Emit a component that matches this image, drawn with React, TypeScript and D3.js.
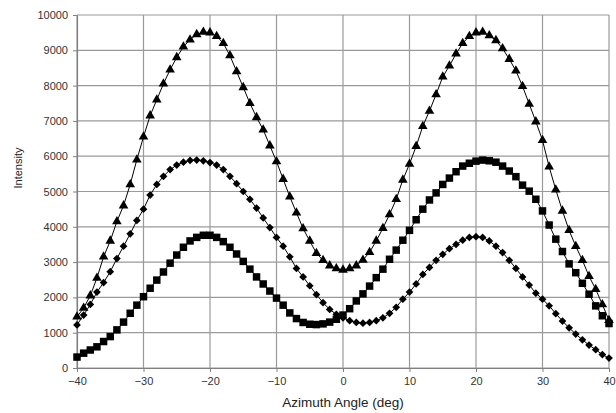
import React, { useEffect, useRef } from "react";
import * as d3 from "d3";

// azimuth angles (deg)
const angles = [
  -40, -39, -38, -37, -36, -35, -34, -33, -32, -31, -30, -29, -28, -27, -26, -25, -24, -23, -22, -21,
  -20, -19, -18, -17, -16, -15, -14, -13, -12, -11, -10, -9, -8, -7, -6, -5, -4, -3, -2, -1,
  0, 1, 2, 3, 4, 5, 6, 7, 8, 9, 10, 11, 12, 13, 14, 15, 16, 17, 18, 19,
  20, 21, 22, 23, 24, 25, 26, 27, 28, 29, 30, 31, 32, 33, 34, 35, 36, 37, 38, 39, 40,
];

// triangle series
const triangles = [
  1450, 1700, 2050, 2550, 3150, 3600, 4150, 4600, 5200, 5900, 6550, 7150, 7600, 8050, 8450, 8800, 9100, 9300, 9450, 9520,
  9500, 9400, 9200, 8850, 8400, 7950, 7500, 7100, 6750, 6300, 5850, 5350, 4850, 4400, 3950, 3600, 3250, 3050, 2900, 2820,
  2780, 2820, 2900, 3060, 3280, 3600, 3960, 4350, 4780, 5330, 5780, 6280, 6850, 7280, 7750, 8250, 8560, 8900, 9200, 9400,
  9500, 9520, 9420, 9280, 9050, 8750, 8420, 7980, 7480, 6980, 6450, 5700, 5050, 4450, 3900, 3450, 3050, 2600, 2230, 1800, 1350,
];

// diamond series
const diamonds = [
  1220, 1500, 1800, 2150, 2420, 2730, 3100, 3450, 3800, 4180, 4500, 4900, 5200, 5430, 5620, 5750, 5830, 5880, 5890, 5870,
  5820, 5750, 5620, 5430, 5220, 5000, 4780, 4530, 4250, 3980, 3700, 3450, 3150, 2820, 2580, 2330, 2080, 1850, 1660, 1520,
  1420, 1340, 1290, 1270, 1290, 1340, 1420, 1550, 1720, 1950, 2150, 2380, 2650, 2850, 3050, 3220, 3380, 3500, 3620, 3700,
  3720, 3700, 3600, 3450, 3270, 3050, 2820, 2580, 2350, 2120, 1950, 1760, 1540, 1330, 1140, 960, 800, 650, 520, 380, 280,
];

// square series
const squares = [
  310, 420, 510, 600, 750, 890, 1080, 1300, 1550, 1780, 2020, 2260, 2490, 2720, 2970, 3200, 3420, 3600, 3700, 3760,
  3760, 3700, 3580, 3420, 3230, 3020, 2800, 2580, 2380, 2180, 1980, 1780, 1560, 1400, 1290, 1240, 1230, 1250, 1300, 1380,
  1500, 1680, 1900, 2100, 2320, 2560, 2800, 3080, 3340, 3620, 3900, 4200, 4500, 4760, 4960, 5200, 5380, 5560, 5720, 5800,
  5860, 5890, 5870, 5830, 5720, 5580, 5420, 5180, 5010, 4780, 4450, 4050, 3650, 3300, 2950, 2700, 2400, 2090, 1760, 1480, 1260,
];

const xTicks = [-40, -30, -20, -10, 0, 10, 20, 30, 40];
const yTicks = [0, 1000, 2000, 3000, 4000, 5000, 6000, 7000, 8000, 9000, 10000];

const App = () => {
  const chartEl = useRef(null);

  useEffect(() => {
    document.body.style.margin = "0";
    const width = 616,
      height = 413;
    const margin = { top: 15, right: 7, bottom: 45, left: 77 };
    const w = width - margin.left - margin.right,
      h = height - margin.top - margin.bottom;

    const svg = d3.select(chartEl.current).attr("width", width).attr("height", height);
    svg.selectAll("*").remove();
    svg.append("rect").attr("width", width).attr("height", height).attr("fill", "#fff");

    const x = d3.scaleLinear().domain([-40, 40]).range([0, w]);
    const y = d3.scaleLinear().domain([0, 10000]).range([h, 0]);

    const g = svg.append("g").attr("transform", "translate(" + margin.left + "," + margin.top + ")");

    // grid
    g.selectAll(".vgrid")
      .data(xTicks)
      .enter()
      .append("line")
      .attr("x1", (d) => x(d))
      .attr("x2", (d) => x(d))
      .attr("y1", 0)
      .attr("y2", h)
      .attr("stroke", "#9a9a9a")
      .attr("stroke-width", 1.2);
    g.selectAll(".hgrid")
      .data(yTicks)
      .enter()
      .append("line")
      .attr("x1", 0)
      .attr("x2", w)
      .attr("y1", (d) => y(d))
      .attr("y2", (d) => y(d))
      .attr("stroke", "#9a9a9a")
      .attr("stroke-width", 1.2);

    const font = "'Liberation Sans', Arial, sans-serif";

    const xAxis = g
      .append("g")
      .attr("transform", "translate(0," + h + ")")
      .call(
        d3.axisBottom(x).tickValues(xTicks).tickFormat(d3.format("d")).tickSize(4).tickSizeOuter(0).tickPadding(5)
      );
    const yAxis = g
      .append("g")
      .call(
        d3.axisLeft(y).tickValues(yTicks).tickFormat(d3.format("d")).tickSize(4).tickSizeOuter(0).tickPadding(5)
      );
    [xAxis, yAxis].forEach((a) => {
      a.select(".domain").attr("stroke", "#808080").attr("stroke-width", 1.2);
      a.selectAll(".tick line").attr("stroke", "#808080");
      a.selectAll("text").attr("font-family", font).attr("font-size", 11).attr("fill", "#333");
    });

    const series = [
      { values: triangles, shape: "triangle" },
      { values: diamonds, shape: "diamond" },
      { values: squares, shape: "square" },
    ];

    const line = d3
      .line()
      .x((d) => x(d[0]))
      .y((d) => y(d[1]));

    series.forEach((s) => {
      const pts = angles.map((a, i) => [a, s.values[i]]);
      g.append("path")
        .datum(pts)
        .attr("fill", "none")
        .attr("stroke", "#000")
        .attr("stroke-width", 1)
        .attr("d", line);

      let sym;
      if (s.shape === "triangle") sym = d3.symbol().type(d3.symbolTriangle).size(40);
      else if (s.shape === "diamond") sym = d3.symbol().type(d3.symbolSquare).size(30);
      else sym = d3.symbol().type(d3.symbolSquare).size(56);

      g.selectAll(".m-" + s.shape)
        .data(pts)
        .enter()
        .append("path")
        .attr("d", sym)
        .attr("fill", "#000")
        .attr(
          "transform",
          (d) =>
            "translate(" + x(d[0]) + "," + y(d[1]) + ")" + (s.shape === "diamond" ? " rotate(45)" : "")
        );
    });

    svg
      .append("text")
      .attr("x", margin.left + w / 2)
      .attr("y", 407)
      .attr("text-anchor", "middle")
      .attr("font-family", font)
      .attr("font-size", 13.5)
      .attr("fill", "#222")
      .text("Azimuth Angle (deg)");

    svg
      .append("text")
      .attr("transform", "translate(22,168) rotate(-90)")
      .attr("text-anchor", "middle")
      .attr("font-family", font)
      .attr("font-size", 11)
      .attr("fill", "#222")
      .text("Intensity");
  }, [chartEl]);

  return <svg ref={chartEl}></svg>;
};

export default App;
